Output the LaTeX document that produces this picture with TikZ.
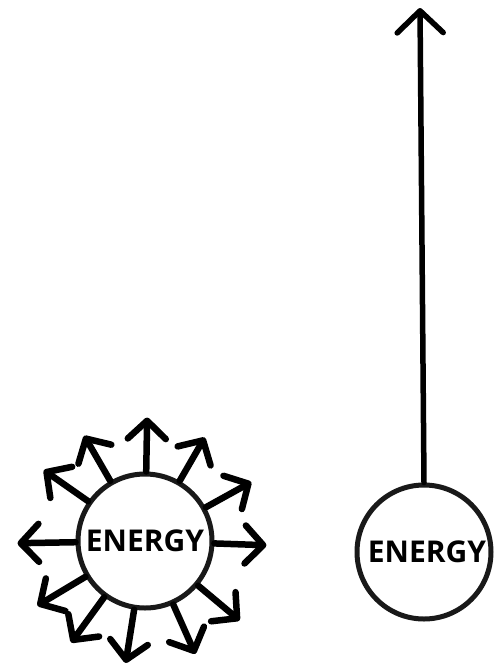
\documentclass[tikz,border=0pt]{standalone}
\usepackage{fontspec}
\setmainfont{Open Sans}
\usetikzlibrary{arrows.meta}
\begin{document}
\begin{tikzpicture}[x=1pt,y=-1pt,
  ball/.style={circle,draw=black!90,line width=5pt,minimum size=134pt,inner sep=0pt,font=\fontsize{30}{30}\selectfont\bfseries},
  ray/.style={line width=6.5pt,line cap=round,-{Straight Barb[length=18pt,width=38pt,line width=6.5pt,round]}},
  bigray/.style={line width=5.5pt,line cap=round,-{Straight Barb[length=22pt,width=46pt,line width=5.5pt,round]}}]
\useasboundingbox (0,0) rectangle (494,665);
\node[ball] (L) at (145,541) {ENERGY};
\node[ball] (R) at (424,552) {\hspace*{6pt}ENERGY};
\coordinate (top) at (420,8);
\draw[bigray] (R.north) -- (top);
\foreach \a/\l in {89/54, 120/52, 145/54, 181/58, 211/56, 234/56, 261/54, 294/54, 320/54, 358/52, 29/52, 60/50}{
  \draw[ray] (L.\a) -- ++(-\a:\l);
}
\end{tikzpicture}
\end{document}
